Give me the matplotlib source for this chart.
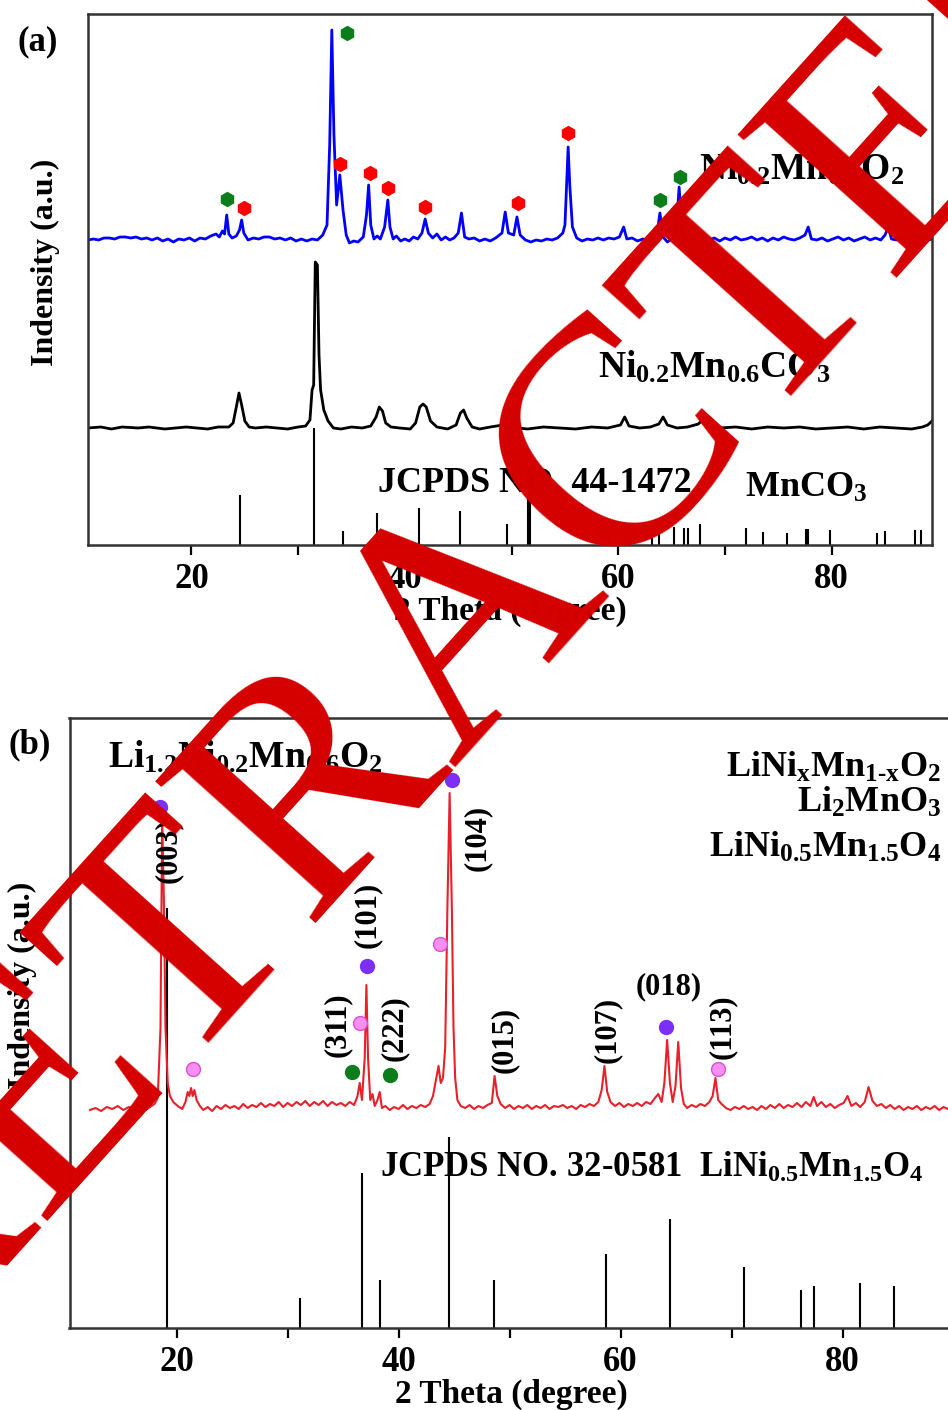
import matplotlib
matplotlib.use("Agg")
import matplotlib.pyplot as plt

plt.rcParams['font.family'] = ['Liberation Serif', 'DejaVu Serif']
plt.rcParams['font.weight'] = 'bold'
plt.rcParams['mathtext.fontset'] = 'custom'
plt.rcParams['mathtext.rm'] = 'Liberation Serif:bold'
plt.rcParams['mathtext.bf'] = 'Liberation Serif:bold'
plt.rcParams['mathtext.it'] = 'Liberation Serif:bold:italic'
plt.rcParams['mathtext.default'] = 'rm'

# ---------------- panel (a) data ----------------
# Ni0.2Mn0.6O2 pattern (blue)
oxide_tt = [10.3, 10.8, 11.3, 11.8, 12.3, 12.8, 13.3, 13.8, 14.3, 14.8, 15.3, 15.8, 16.3, 16.8,
            17.3, 17.8, 18.3, 18.8, 19.3, 19.8, 20.3, 20.8, 21.3, 21.8, 22.3, 22.6, 22.9, 23.1,
            23.3, 23.5, 23.8, 24.2, 24.5, 24.7, 24.9, 25.3, 25.8, 26.3, 26.8, 27.3, 27.8, 28.3,
            28.8, 29.3, 29.8, 30.3, 30.8, 31.3, 31.8, 32.3, 32.7, 32.95, 33.15, 33.35, 33.6,
            33.9, 34.2, 34.5, 34.8, 35.2, 35.6, 36.1, 36.4, 36.6, 36.8, 37.1, 37.4, 37.7, 38.1,
            38.4, 38.6, 38.9, 39.2, 39.6, 40.0, 40.4, 40.8, 41.2, 41.6, 41.9, 42.2, 42.6, 43.0,
            43.4, 43.8, 44.2, 44.6, 45.0, 45.3, 45.6, 46.0, 46.5, 47.0, 47.5, 48.0, 48.5, 49.1,
            49.4, 49.7, 50.2, 50.5, 50.8, 51.3, 51.8, 52.3, 52.8, 53.3, 53.8, 54.3, 54.8, 55.0,
            55.15, 55.3, 55.45, 55.7, 56.1, 56.6, 57.1, 57.6, 58.1, 58.6, 59.1, 59.6, 60.1,
            60.5, 60.8, 61.3, 61.8, 62.3, 62.8, 63.3, 63.6, 63.9, 64.2, 64.6, 65.0, 65.4, 65.7,
            66.0, 66.5, 67.0, 67.5, 68.0, 68.5, 69.0, 69.5, 70.0, 70.5, 71.0, 71.5, 72.0, 72.5,
            73.0, 73.5, 74.0, 74.5, 75.0, 75.5, 76.0, 76.5, 77.0, 77.5, 77.8, 78.1, 78.6, 79.1,
            79.6, 80.1, 80.6, 81.1, 81.6, 82.1, 82.6, 83.1, 83.6, 84.1, 84.6, 85.0, 85.3, 85.6,
            86.1, 86.6, 87.1, 87.6, 88.1, 88.6, 89.0, 89.4]
oxide_i = [305, 306, 305, 307, 307, 306, 308, 308, 307, 308, 306, 307, 305, 307,
           304, 306, 303, 306, 305, 307, 304, 307, 306, 309, 311, 308, 314, 311,
           330, 311, 307, 309, 315, 325, 312, 305, 307, 306, 308, 308, 306, 307,
           305, 307, 304, 306, 304, 306, 305, 310, 320, 400, 515, 410, 340,
           370, 335, 310, 302, 304, 303, 308, 330, 360, 320, 306, 309, 306, 318,
           345, 318, 306, 309, 304, 306, 304, 308, 306, 312, 326, 312, 307, 311,
           305, 308, 305, 307, 312, 332, 308, 306, 307, 304, 306, 304, 307, 312,
           333, 312, 310, 328, 310, 305, 303, 305, 304, 306, 305, 307, 312, 320,
           360, 398, 360, 318, 307, 304, 306, 305, 307, 305, 307, 306, 308,
           318, 306, 307, 304, 306, 305, 307, 309, 332, 308, 303, 306, 310, 358,
           310, 303, 307, 305, 308, 305, 307, 304, 307, 305, 308, 305, 306, 308,
           305, 307, 304, 307, 305, 308, 306, 305, 307, 310, 318, 306, 305, 307,
           304, 306, 308, 305, 307, 304, 306, 308, 305, 307, 305, 310, 318, 306,
           305, 307, 304, 306, 305, 307, 305, 306]

# Ni0.2Mn0.6CO3 pattern (black)
carb_tt = [10.3, 11.5, 12.5, 13.5, 15, 16, 17.5, 18.5, 19.5, 20.5, 21.5, 22.5, 23.5, 23.9, 24.2,
           24.45, 24.7, 25.0, 25.4, 26, 27, 28, 29, 30, 30.7, 31.1, 31.3, 31.45, 31.6, 31.8,
           31.95, 32.1, 32.4, 32.8, 33.3, 34, 35, 36, 36.8, 37.3, 37.6, 37.9, 38.2, 38.7, 39.5,
           40.5, 41.0, 41.4, 41.7, 42.0, 42.4, 43, 44, 44.8, 45.2, 45.5, 45.8, 46.3, 47, 48,
           49.2, 49.7, 50.1, 50.6, 51.5, 53, 54.5, 56, 57.5, 59, 60.2, 60.6, 61.0, 62, 63,
           63.8, 64.2, 64.6, 65.5, 66.5, 67.5, 68.0, 68.5, 69.5, 71, 72.5, 74, 75.5, 77, 78.5,
           80, 81.5, 83, 84.5, 86, 87.5, 88.5, 89.0, 89.4]
carb_i = [117, 118, 116, 118, 117, 118, 116, 117, 118, 117, 116, 118, 118, 122, 138,
          152, 140, 124, 118, 117, 118, 117, 116, 118, 119, 125, 155, 160, 283, 280,
          190, 155, 135, 124, 117, 116, 118, 117, 119, 128, 138, 134, 122, 118, 117,
          116, 122, 138, 141, 138, 124, 118, 116, 120, 132, 135, 127, 118, 116, 118,
          120, 127, 122, 117, 116, 118, 117, 116, 118, 117, 120, 128, 119, 117, 118,
          121, 128, 120, 117, 118, 121, 126, 119, 117, 118, 116, 118, 117, 118, 116,
          117, 118, 116, 118, 117, 116, 118, 120, 124]

# JCPDS 44-1472 MnCO3 reference lines
mnco3_tt = [24.5, 31.5, 34.2, 37.4, 41.3, 45.2, 49.6, 51.55, 51.7, 59.1, 63.2, 63.8, 65.2, 66.2,
            66.5, 67.7, 72.0, 73.6, 75.8, 77.6, 77.8, 79.8, 84.2, 85.0, 87.8, 88.4]
mnco3_i = [50, 117, 14, 32, 37, 34, 21, 50, 50, 11, 13, 15, 18, 17,
           17, 21, 17, 13, 12, 16, 16, 15, 12, 14, 15, 15]

green_a_tt = [23.3, 34.6, 63.9, 65.8]
green_a_i = [346, 512, 345, 368]
red_a_tt = [24.9, 33.9, 36.7, 38.4, 41.9, 50.6, 55.3]
red_a_i = [337, 381, 372, 357, 338, 342, 412]

# ---------------- panel (b) data ----------------
lnmo_tt = [12.2, 12.7, 13.2, 13.7, 14.2, 14.7, 15.2, 15.7, 16.2, 16.7, 17.2, 17.6, 18.0, 18.3,
           18.55, 18.7, 18.85, 19.0, 19.2, 19.4, 19.7, 20.1, 20.5, 20.8, 21.0, 21.15, 21.3,
           21.45, 21.6, 21.8, 22.1, 22.4, 22.8, 23.2, 23.6, 24.0, 24.4, 24.8, 25.2, 25.6, 26.0,
           26.4, 26.8, 27.2, 27.6, 28.0, 28.4, 28.8, 29.2, 29.6, 30.0, 30.4, 30.8, 31.2, 31.6,
           32.0, 32.4, 32.8, 33.2, 33.6, 34.0, 34.4, 34.8, 35.2, 35.6, 36.0, 36.3, 36.5, 36.7,
           36.95, 37.1, 37.25, 37.45, 37.65, 37.85, 38.1, 38.3, 38.5, 38.8, 39.2, 39.6, 40.0,
           40.4, 40.8, 41.2, 41.6, 42.0, 42.4, 42.8, 43.1, 43.4, 43.6, 43.8, 44.0, 44.2, 44.4,
           44.6, 44.8, 44.95, 45.1, 45.3, 45.6, 46.0, 46.4, 46.8, 47.2, 47.6, 48.0, 48.4, 48.65,
           48.9, 49.2, 49.6, 50.0, 50.4, 50.8, 51.2, 51.6, 52.0, 52.4, 52.8, 53.2, 53.6, 54.0,
           54.4, 54.8, 55.2, 55.6, 56.0, 56.4, 56.8, 57.2, 57.6, 58.0, 58.3, 58.55, 58.8, 59.1,
           59.5, 59.9, 60.3, 60.7, 61.1, 61.5, 61.9, 62.3, 62.7, 63.1, 63.4, 63.7, 63.95, 64.2,
           64.45, 64.7, 64.95, 65.2, 65.45, 65.7, 66.0, 66.4, 66.8, 67.2, 67.6, 68.0, 68.3,
           68.55, 68.8, 69.1, 69.5, 69.9, 70.3, 70.7, 71.1, 71.5, 71.9, 72.3, 72.7, 73.1, 73.5,
           73.9, 74.3, 74.7, 75.1, 75.5, 75.9, 76.3, 76.7, 77.1, 77.4, 77.7, 78.1, 78.5, 78.9,
           79.3, 79.7, 80.1, 80.45, 80.8, 81.2, 81.6, 82.0, 82.35, 82.7, 83.1, 83.5, 83.9, 84.3,
           84.7, 85.1, 85.5, 85.9, 86.3, 86.7, 87.1, 87.5, 87.9, 88.3, 88.7, 89.1, 89.5, 90.0]
lnmo_i = [218, 220, 217, 221, 219, 222, 218, 221, 219, 222, 218, 221, 224, 230,
          300, 510, 430, 300, 245, 232, 226, 222, 219, 226, 236, 232, 240,
          232, 238, 228, 222, 218, 221, 217, 222, 219, 223, 220, 222, 219, 224,
          220, 223, 221, 225, 221, 224, 222, 226, 221, 225, 222, 226, 223, 227,
          222, 226, 223, 227, 222, 226, 223, 225, 222, 226, 223, 232, 245, 228,
          270, 343, 270, 228, 234, 222, 228, 236, 220, 222, 218, 221, 219,
          223, 219, 222, 220, 223, 221, 224, 232, 250, 262, 245, 250, 280, 420,
          535, 420, 300, 250, 228, 222, 220, 223, 219, 222, 220, 223, 225, 252,
          232, 224, 220, 223, 219, 222, 220, 223, 219, 222, 220, 223, 219, 222,
          221, 223, 220, 222, 219, 223, 221, 224, 222, 226, 238, 262, 236, 226,
          222, 225, 221, 224, 222, 225, 222, 226, 224, 230, 234, 226, 245, 288,
          245, 226, 242, 286, 240, 224, 220, 223, 221, 224, 222, 226, 232,
          250, 228, 224, 220, 218, 221, 219, 222, 219, 221, 218, 222, 219, 223,
          220, 224, 220, 223, 221, 225, 221, 226, 222, 231, 222, 226, 221, 224,
          220, 223, 225, 232, 222, 225, 221, 226, 241, 227, 222, 224, 220, 223,
          219, 222, 218, 221, 219, 222, 218, 221, 219, 222, 218, 221, 219, 220]

# JCPDS 32-0581 LiNi0.5Mn1.5O4 reference lines
spinel_tt = [10.35, 19.1, 31.1, 36.7, 38.3, 44.5, 48.6, 58.7, 64.5, 71.1, 76.3, 77.4, 81.6, 84.6]
spinel_i = [285, 420, 30, 155, 48, 191, 48, 74, 109, 61, 38, 42, 45, 42]

purple_b_tt = [18.5, 37.2, 44.8, 64.1]
purple_b_i = [521, 362, 548, 301]
pink_b_tt = [21.5, 36.5, 43.7, 68.8]
pink_b_i = [259, 305, 384, 259]
green_b_tt = [35.8, 39.2]
green_b_i = [256, 253]

hkl_labels = ['(003)', '(311)', '(101)', '(222)', '(104)', '(015)', '(107)', '(018)', '(113)']
hkl_tt = [19.3, 34.5, 37.2, 39.6, 47.1, 49.5, 58.8, 64.3, 69.2]
hkl_i = [478, 303, 413, 300, 490, 288, 298, 341, 301]
hkl_rot = [90, 90, 90, 90, 90, 90, 90, 0, 90]

W, H = 948, 1410
fig = plt.figure(figsize=(W / 100, H / 100), dpi=100)

def style_axes(ax, xlim, ylim):
    ax.set_xlim(*xlim)
    ax.set_ylim(*ylim)
    ax.set_yticks([])
    ax.set_xticks([20, 40, 60, 80])
    ax.set_xticks([30, 50, 70], minor=True)
    ax.tick_params(axis='x', which='both', direction='out', length=7, width=1.6,
                   labelsize=25, pad=6)
    for lab in ax.get_xticklabels():
        lab.set_fontweight('bold')
    for s in ax.spines.values():
        s.set_linewidth(1.8)
        s.set_color('#333333')

# panel (a)
ax1 = fig.add_axes([88 / W, 1 - 545 / H, (932 - 88) / W, (545 - 14) / H])
style_axes(ax1, (10.3, 89.4), (0, 531))
ax1.vlines(mnco3_tt, 0, mnco3_i, color='black', lw=1.5)
ax1.plot(carb_tt, carb_i, color='black', lw=2.0)
ax1.plot(oxide_tt, oxide_i, color='#0000ff', lw=2.0)
ax1.plot(green_a_tt, green_a_i, 'h', color='#0b7d1a', ms=10, mec='#0b7d1a')
ax1.plot(red_a_tt, red_a_i, 'h', color='#ff0000', ms=10, mec='#ff0000')
ax1.text(67.6, 365, r'Ni$_{0.2}$Mn$_{0.6}$O$_2$', fontsize=27, ha='left', va='baseline')
ax1.text(58.1, 167, r'Ni$_{0.2}$Mn$_{0.6}$CO$_3$', fontsize=27, ha='left', va='baseline')
ax1.text(37.5, 53, 'JCPDS NO. 44-1472', fontsize=26, ha='left', va='baseline')
ax1.text(71.9, 48, r'MnCO$_3$', fontsize=26, ha='left', va='baseline')
ax1.set_xlabel('2 Theta (degree)', fontsize=24, fontweight='bold', labelpad=0)
ax1.set_ylabel('Indensity (a.u.)', fontsize=23, fontweight='bold', va='center')
ax1.yaxis.set_label_coords((45 - 88) / 844, (545 - 262) / 531)
fig.text(38 / W, 1 - 42 / H, '(a)', fontsize=25, fontweight='bold', ha='center', va='center')

# panel (b)
ax2 = fig.add_axes([69.5 / W, 1 - 1328 / H, (953.5 - 69.5) / W, (1328 - 718) / H])
style_axes(ax2, (10.35, 90), (0, 610))
ax2.spines['right'].set_visible(False)
ax2.vlines(spinel_tt, 0, spinel_i, color='black', lw=1.5)
ax2.plot(lnmo_tt, lnmo_i, color='#e8202a', lw=1.5)
ax2.plot(purple_b_tt, purple_b_i, 'o', color='#7b2ff7', ms=10, mec='#7b2ff7')
ax2.plot(pink_b_tt, pink_b_i, 'o', color='#f78ef0', ms=10, mec='#d850d8')
ax2.plot(green_b_tt, green_b_i, 'o', color='#0b7d1a', ms=10, mec='#0b7d1a')
for lab, tt, ii, rot in zip(hkl_labels, hkl_tt, hkl_i, hkl_rot):
    ax2.text(tt, ii, lab, fontsize=22, rotation=rot, ha='center', va='center')
ax2.text(13.8, 560, r'Li$_{1.2}$Ni$_{0.2}$Mn$_{0.6}$O$_2$', fontsize=27, ha='left', va='baseline')
ax2.text(88.9, 551, r'LiNi$_x$Mn$_{1\text{-}x}$O$_2$', fontsize=26, ha='right', va='baseline')
ax2.text(88.9, 516, r'Li$_2$MnO$_3$', fontsize=26, ha='right', va='baseline')
ax2.text(88.9, 471, r'LiNi$_{0.5}$Mn$_{1.5}$O$_4$', fontsize=26, ha='right', va='baseline')
ax2.text(38.3, 151, r'JCPDS NO. 32-0581  LiNi$_{0.5}$Mn$_{1.5}$O$_4$', fontsize=25,
         ha='left', va='baseline')
ax2.set_xlabel('2 Theta (degree)', fontsize=24, fontweight='bold', labelpad=0)
ax2.set_ylabel('Indensity (a.u.)', fontsize=23, fontweight='bold', va='center')
ax2.yaxis.set_label_coords((22 - 69.5) / 884, (1328 - 985) / 610)
fig.text(30 / W, 1 - 745 / H, '(b)', fontsize=25, fontweight='bold', ha='center', va='center')

# retraction watermark
fig.text(478 / W, 1 - 615 / H, 'RETRACTED', fontsize=235, fontweight='normal',
         color='#d50000', rotation=48, rotation_mode='anchor', ha='center', va='center',
         family='Liberation Serif', zorder=20)

fig.savefig('out.png', dpi=100)
